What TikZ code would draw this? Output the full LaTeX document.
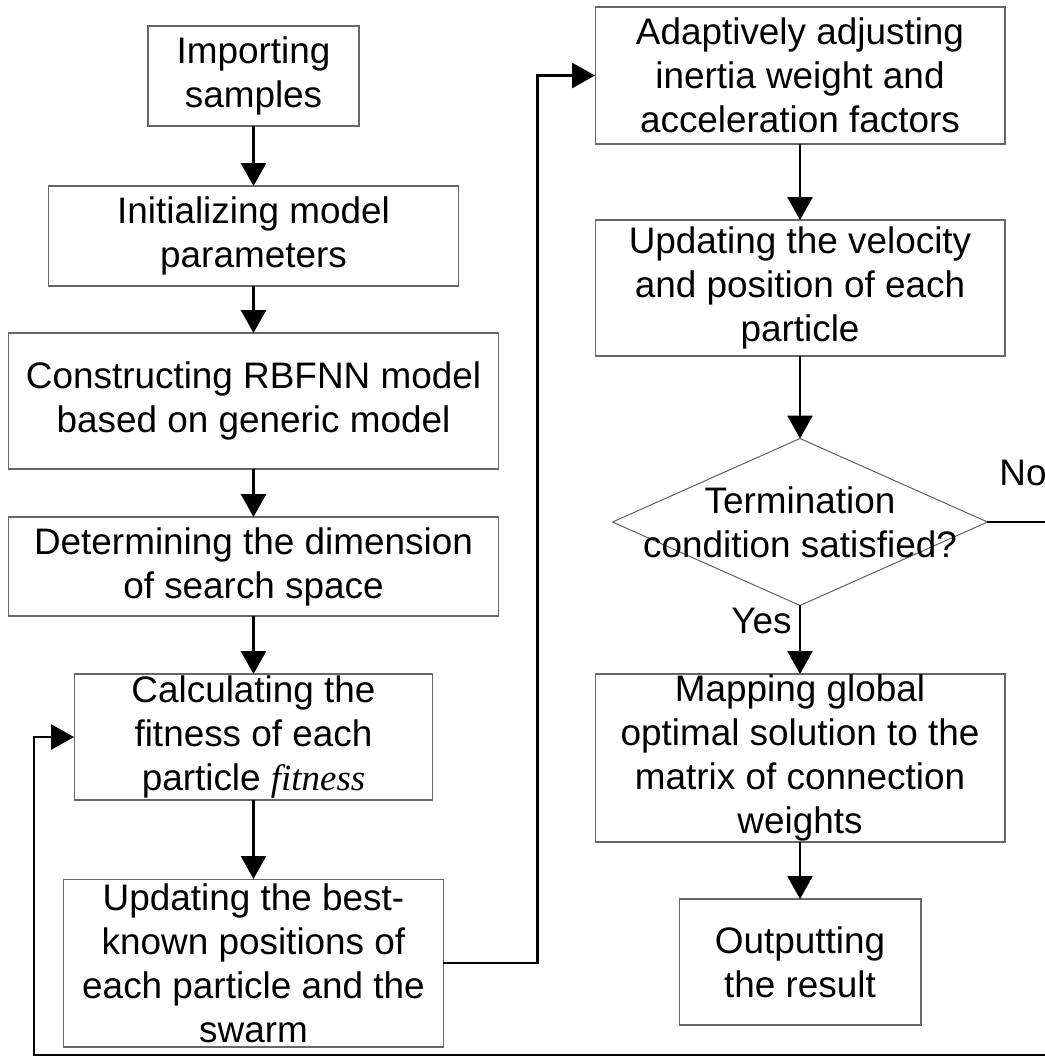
\documentclass[tikz,border=0pt]{standalone}
\usepackage{fontspec}
\setmainfont{Liberation Sans}
\newfontfamily\serifitalic{Liberation Serif}
\usetikzlibrary{arrows.meta,shapes.geometric}
\begin{document}
\begin{tikzpicture}[x=0.02cm,y=-0.02cm,
  every node/.append style={font=\fontsize{21}{25}\selectfont},
  box/.style={draw=black!60, line width=0.6pt, rectangle, inner sep=0pt,
    outer sep=0pt, align=center},
  decision/.style={draw=black!60, line width=0.6pt, diamond, inner sep=0pt,
    outer sep=0pt},
  flow/.style={line width=1.5pt, line join=miter,
    -{Triangle[length=0.46cm,width=0.5cm]}},
  ]
\useasboundingbox (0,0) rectangle (1044,1057);

% left column
\node[box, minimum width=4.22cm, minimum height=2cm]    (imp)   at (253.5,76)  {Importing\\samples};
\node[box, minimum width=8.2cm,  minimum height=2cm]    (init)  at (253.5,236) {Initializing model\\parameters};
\node[box, minimum width=9.8cm,  minimum height=2.72cm] (cons)  at (253.5,401) {Constructing RBFNN model\\based on generic model};
\node[box, minimum width=9.8cm,  minimum height=1.98cm] (dim)   at (253.5,566.5) {Determining the dimension\\of search space};
\node[box, minimum width=7.18cm, minimum height=2.52cm] (calc)  at (253.5,737) {Calculating the\\fitness of each\\particle {\serifitalic\itshape fitness}};
\node[box, minimum width=7.6cm,  minimum height=3.36cm] (best)  at (253.5,963) {Updating the best-\\known positions of\\each particle and the\\swarm};

% right column
\node[box, minimum width=8.2cm,  minimum height=2.74cm] (adapt) at (800,75.5) {Adaptively adjusting\\inertia weight and\\acceleration factors};
\node[box, minimum width=8.2cm,  minimum height=2.72cm] (upd)   at (800,288)  {Updating the velocity\\and position of each\\particle};
\node[decision, minimum width=7.5cm, minimum height=3.34cm] (term) at (800,522) {};
\node[align=center, inner sep=0pt] (termtext) at (term.center) {Termination\\condition satisfied?};
\node[box, minimum width=8.2cm,  minimum height=3.36cm] (map)   at (800,758)  {Mapping global\\optimal solution to the\\matrix of connection\\weights};
\node[box, minimum width=4.84cm, minimum height=2.52cm] (out)   at (800,962)  {Outputting\\the result};

% branch labels
\node[anchor=base east, inner sep=0pt] (yes) at (792,633) {Yes};
\node[anchor=base west, inner sep=0pt] (no)  at (999,485) {No};

% main flow
\draw[flow] (imp.south)  -- (init.north);
\draw[flow] (init.south) -- (cons.north);
\draw[flow] (cons.south) -- (dim.north);
\draw[flow] (dim.south)  -- (calc.north);
\draw[flow] (calc.south) -- (best.north);
\draw[flow] (best.east) -- ++(94,0) |- (adapt.west);
\draw[flow] (adapt.south) -- (upd.north);
\draw[flow] (upd.south) -- (term.north);
\draw[flow] (term.south) -- (map.north);
\draw[flow] (map.south) -- (out.north);

% loop back when the termination condition is not met
\draw[flow] (term.east) -- ++(90,0) |- (34,1055) |- (calc.west);
\end{tikzpicture}
\end{document}
